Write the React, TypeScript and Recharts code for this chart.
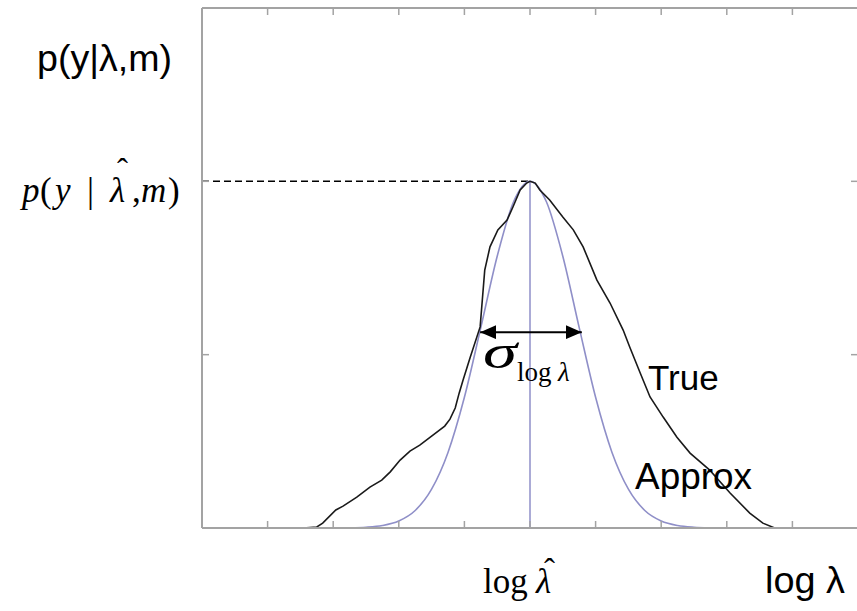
import React from "react";
import { LineChart, Line, XAxis, YAxis, ReferenceLine } from "recharts";

// ---- data (x in log-lambda tick units, y relative to the peak) ----
const xTicks = [0, 1, 2, 3, 4, 5, 6, 7, 8, 9, 10];
const yTicks = [0, 0.5, 1, 1.5];

const trueX = [1.54, 1.75, 1.84, 2.04, 2.15, 2.36, 2.56, 2.74, 2.87, 3.02, 3.17, 3.32, 3.48, 3.7, 3.78, 3.86, 3.92, 3.98, 4.09, 4.24, 4.31, 4.39, 4.51, 4.65, 4.74, 4.85, 4.95, 5.0, 5.08, 5.15, 5.3, 5.5, 5.66, 5.81, 6.02, 6.22, 6.42, 6.52, 6.68, 6.83, 7.03, 7.24, 7.44, 7.74, 8.05, 8.35, 8.55, 8.73];
const trueY = [0, 0.003, 0.014, 0.052, 0.063, 0.089, 0.118, 0.138, 0.162, 0.196, 0.222, 0.239, 0.262, 0.294, 0.314, 0.346, 0.389, 0.427, 0.493, 0.58, 0.744, 0.811, 0.86, 0.888, 0.926, 0.975, 0.995, 1.0, 0.995, 0.975, 0.946, 0.897, 0.86, 0.811, 0.715, 0.649, 0.571, 0.522, 0.447, 0.378, 0.32, 0.262, 0.216, 0.167, 0.101, 0.043, 0.014, 0];

const approxX = [2, 2.25, 2.5, 2.75, 3, 3.25, 3.5, 3.75, 4, 4.25, 4.5, 4.75, 5, 5.25, 5.5, 5.75, 6, 6.25, 6.5, 6.75, 7, 7.25, 7.5, 7.75, 8];
const approxY = [0.0001, 0.0006, 0.0023, 0.0072, 0.0203, 0.0505, 0.112, 0.218, 0.377, 0.578, 0.784, 0.941, 1, 0.941, 0.784, 0.578, 0.377, 0.218, 0.112, 0.0505, 0.0203, 0.0072, 0.0023, 0.0006, 0.0001];

const peakX = 5;
const peakY = 1;
const sigmaFrom = 4.24;
const sigmaTo = 5.79;
const sigmaLevel = 0.565;

const trueData = trueX.map((x, i) => ({ x, y: trueY[i] }));
const approxData = approxX.map((x, i) => ({ x, y: approxY[i] }));

const SANS = "'Liberation Sans', Arial, sans-serif";
const SERIF = "'Liberation Serif', 'Times New Roman', serif";
const FRAME = "#a3a3a3";
const APPROX = "#8f8fc8";

const ArrowShape = (p: any) => (
  <line
    x1={p.x1}
    y1={p.y1}
    x2={p.x2}
    y2={p.y2}
    stroke="#000"
    strokeWidth={2}
    markerStart="url(#ah)"
    markerEnd="url(#ah)"
  />
);

const NoLabel = () => null;

const axisStyle = {
  stroke: FRAME,
  axisLine: { stroke: FRAME, strokeWidth: 2 },
  tickLine: { stroke: FRAME, strokeWidth: 1.5 },
  tick: NoLabel,
  tickSize: -7,
  interval: 0 as const,
  allowDataOverflow: true,
  type: "number" as const,
};

export default function App() {
  return (
    <div style={{ position: "absolute", left: 0, top: 0, width: 857, height: 611, overflow: "hidden", background: "#fff" }}>
      <svg width={0} height={0} style={{ position: "absolute" }}>
        <defs>
          <marker id="ah" markerUnits="userSpaceOnUse" markerWidth={17} markerHeight={14} refX={16} refY={7} orient="auto-start-reverse">
            <path d="M0,0 L16,7 L0,14 z" fill="#000" />
          </marker>
        </defs>
      </svg>
      <LineChart width={860} height={611} margin={{ top: 7, right: 1, bottom: 82, left: 201 }}>
        <XAxis xAxisId="b" orientation="bottom" dataKey="x" domain={[0, 10]} ticks={xTicks} height={1} {...axisStyle} />
        <XAxis xAxisId="t" orientation="top" dataKey="x" domain={[0, 10]} ticks={xTicks} height={1} {...axisStyle} />
        <YAxis yAxisId="l" orientation="left" domain={[0, 1.5]} ticks={yTicks} width={1} {...axisStyle} />
        <YAxis yAxisId="r" orientation="right" domain={[0, 1.5]} ticks={yTicks} width={1} {...axisStyle} />
        <ReferenceLine xAxisId="b" yAxisId="l" segment={[{ x: 0, y: peakY }, { x: peakX, y: peakY }]} stroke="#000" strokeWidth={1.5} strokeDasharray="7 4" />
        <ReferenceLine xAxisId="b" yAxisId="l" segment={[{ x: peakX, y: 0 }, { x: peakX, y: peakY }]} stroke={APPROX} strokeWidth={1.5} />
        <Line xAxisId="b" yAxisId="l" data={approxData} dataKey="y" type="monotone" stroke={APPROX} strokeWidth={1.6} dot={false} isAnimationActive={false} />
        <Line xAxisId="b" yAxisId="l" data={trueData} dataKey="y" type="linear" stroke="#1a1a1a" strokeWidth={1.6} dot={false} isAnimationActive={false} />
        <ReferenceLine xAxisId="b" yAxisId="l" segment={[{ x: sigmaFrom, y: sigmaLevel }, { x: sigmaTo, y: sigmaLevel }]} shape={ArrowShape} />
      </LineChart>
      <svg width={857} height={611} style={{ position: "absolute", left: 0, top: 0, pointerEvents: "none" }}>
        <text x={37} y={71} fontFamily={SANS} fontSize={36} textLength={135} lengthAdjust="spacingAndGlyphs" fill="#000">p(y|λ,m)</text>
        <text y={202} fontFamily={SERIF} fontSize={35} fill="#000">
          <tspan x={22} y={202} fontStyle="italic">p</tspan>
          <tspan x={40} y={202}>(</tspan>
          <tspan x={55} y={202} fontStyle="italic">y</tspan>
          <tspan x={87} y={202}>|</tspan>
          <tspan x={110} y={202} fontStyle="italic">λ</tspan>
          <tspan x={117} y={182} fontSize={33}>ˆ</tspan>
          <tspan x={132} y={202}>,</tspan>
          <tspan x={141} y={202} fontStyle="italic">m</tspan>
          <tspan x={168} y={202}>)</tspan>
        </text>
        <text x={483} y={368} fontFamily={SERIF} fontSize={48} fontStyle="italic" textLength={34} lengthAdjust="spacingAndGlyphs" fill="#000">σ</text>
        <text y={381} fontFamily={SERIF} fontSize={27} fill="#000">
          <tspan x={517}>log</tspan>
          <tspan x={558} fontStyle="italic">λ</tspan>
        </text>
        <text x={648} y={390} fontFamily={SANS} fontSize={35} fill="#000">True</text>
        <text x={635} y={489} fontFamily={SANS} fontSize={36} textLength={117} lengthAdjust="spacingAndGlyphs" fill="#000">Approx</text>
        <text y={593} fontFamily={SERIF} fontSize={35} fill="#000">
          <tspan x={483} y={593}>log</tspan>
          <tspan x={536} y={593} fontStyle="italic">λ</tspan>
          <tspan x={544} y={582} fontSize={33}>ˆ</tspan>
        </text>
        <text x={765} y={593} fontFamily={SANS} fontSize={36} textLength={80} lengthAdjust="spacingAndGlyphs" fill="#000">log λ</text>
      </svg>
    </div>
  );
}
